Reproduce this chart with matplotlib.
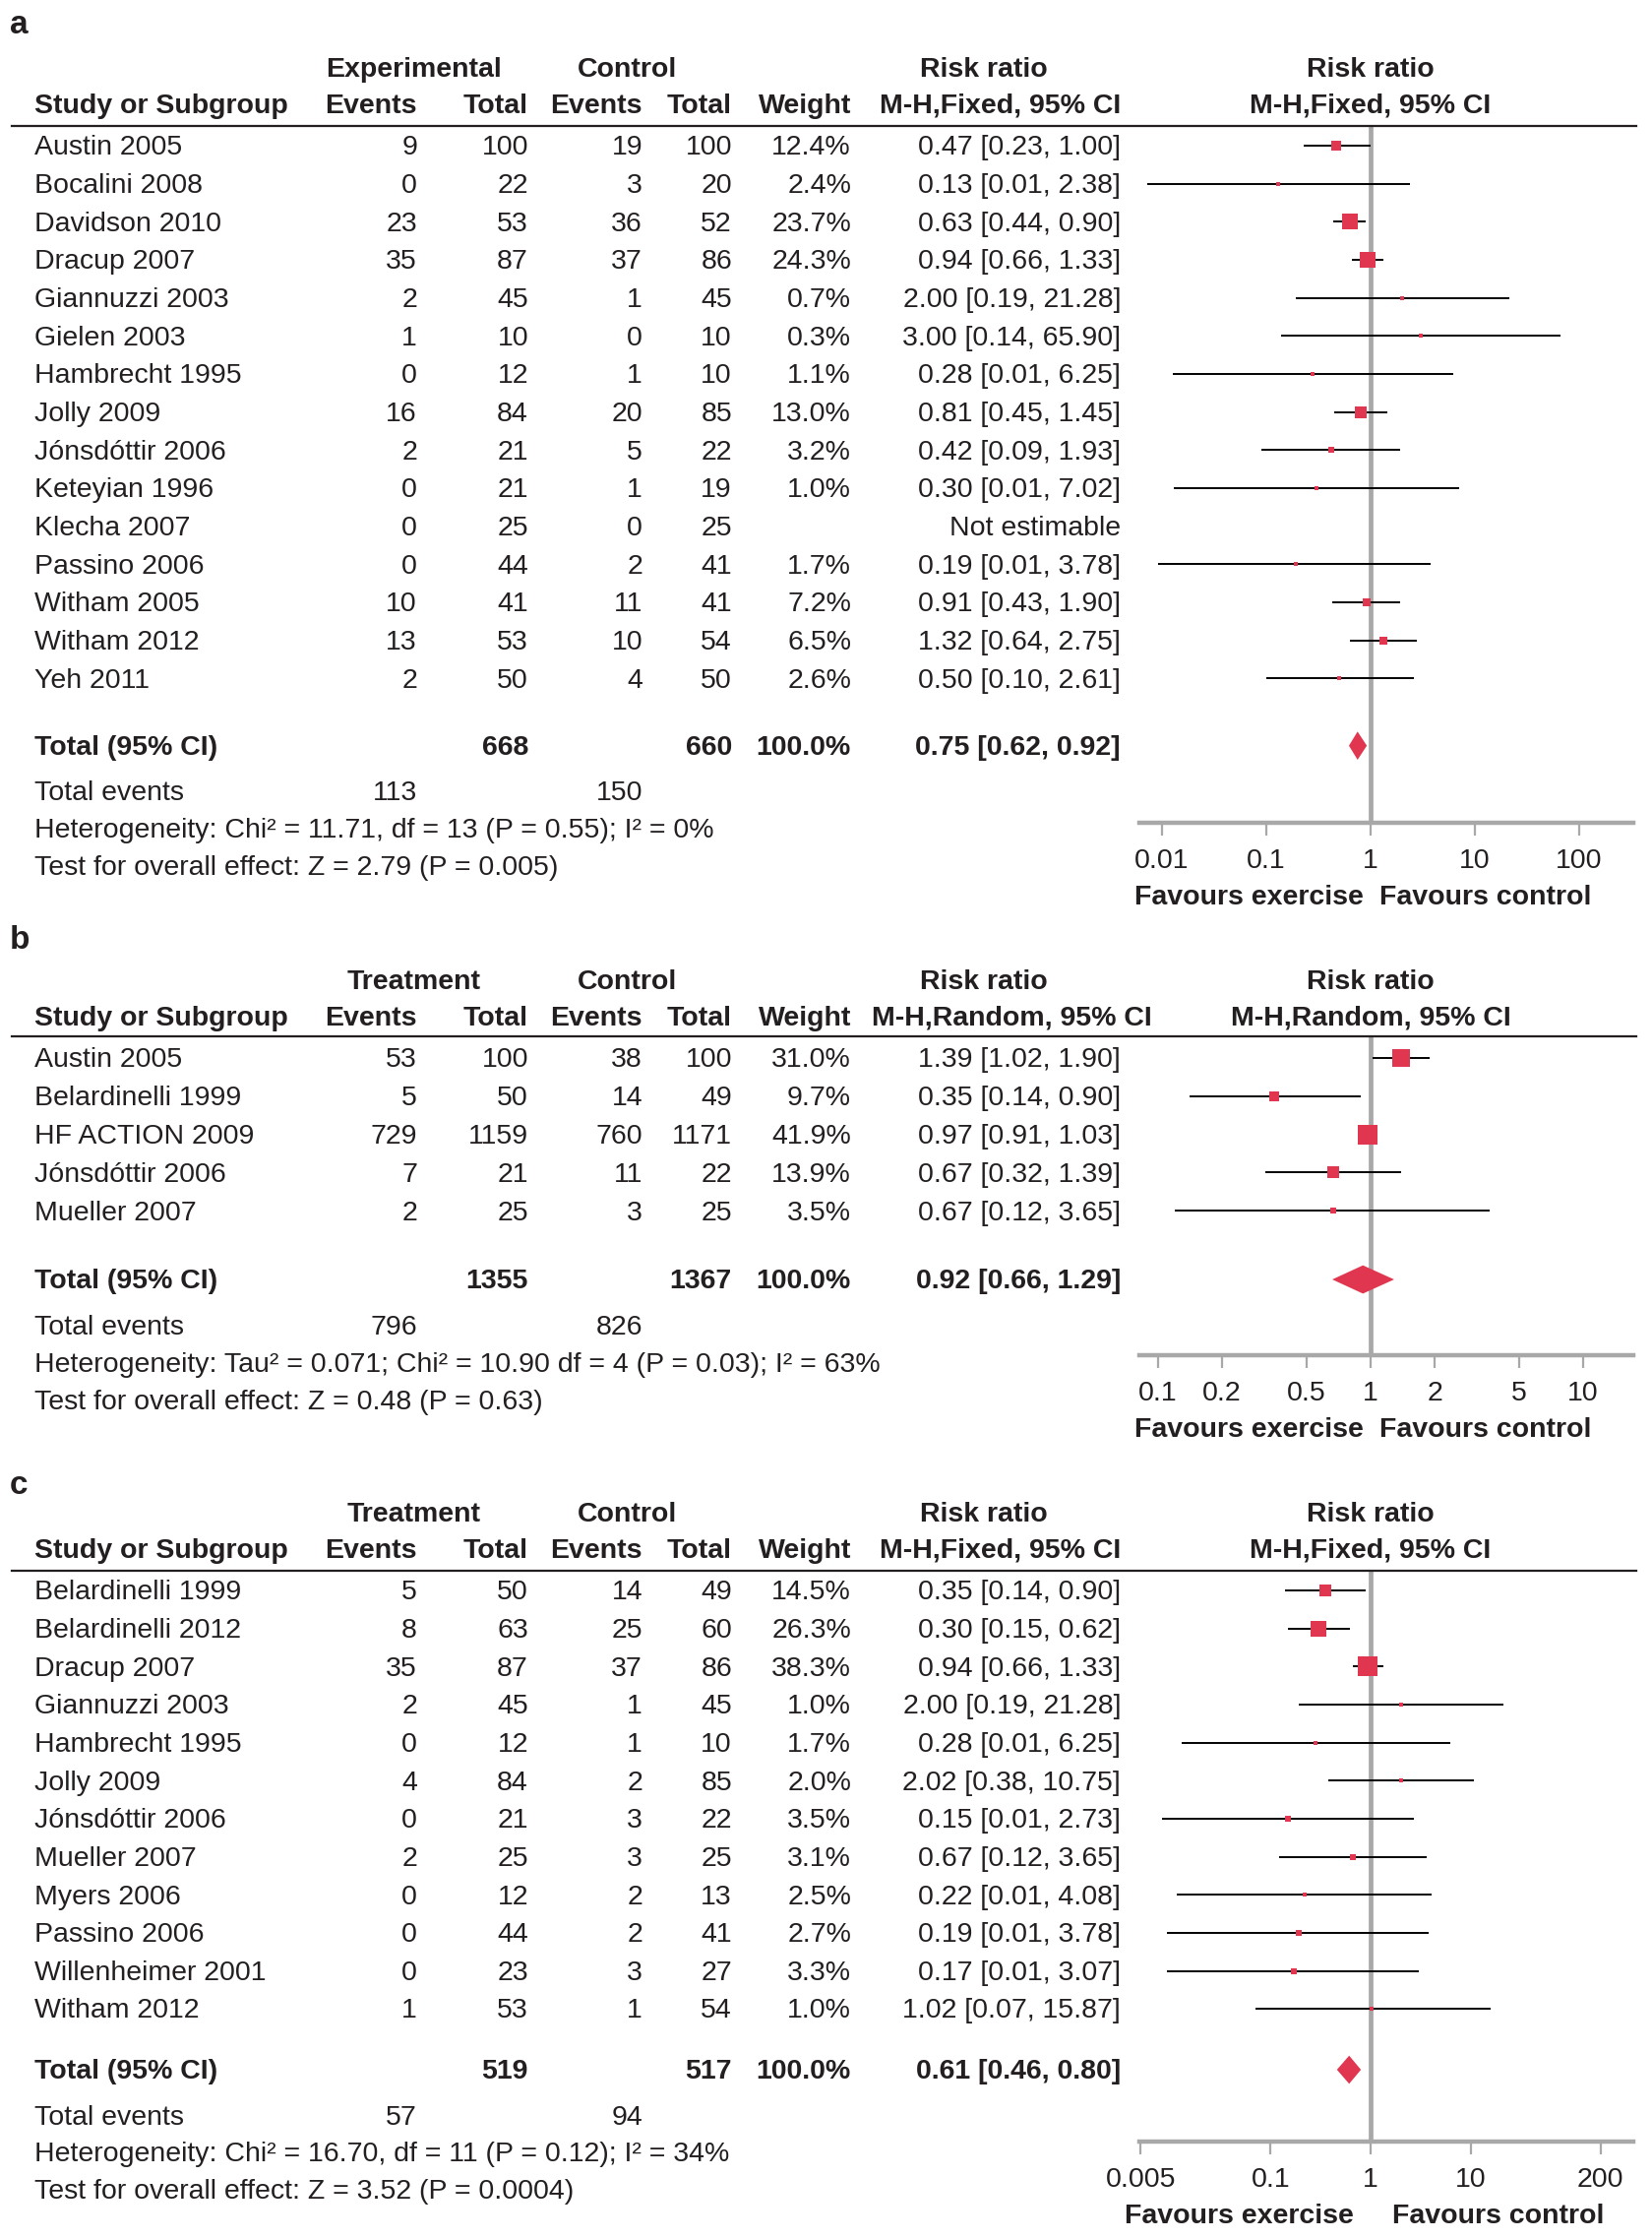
import numpy as np
import matplotlib.pyplot as plt
import matplotlib.transforms as mtransforms
from matplotlib.lines import Line2D
from matplotlib.patches import Polygon
from matplotlib.ticker import NullLocator

plt.rcParams['font.family'] = ['Liberation Sans', 'DejaVu Sans']

# ---- panel a: all-cause mortality, fixed effect
studies_a = ["Austin 2005", "Bocalini 2008", "Davidson 2010", "Dracup 2007", "Giannuzzi 2003",
             "Gielen 2003", "Hambrecht 1995", "Jolly 2009", "Jónsdóttir 2006", "Keteyian 1996",
             "Klecha 2007", "Passino 2006", "Witham 2005", "Witham 2012", "Yeh 2011"]
exp_ev_a = [9, 0, 23, 35, 2, 1, 0, 16, 2, 0, 0, 0, 10, 13, 2]
exp_n_a = [100, 22, 53, 87, 45, 10, 12, 84, 21, 21, 25, 44, 41, 53, 50]
ctl_ev_a = [19, 3, 36, 37, 1, 0, 1, 20, 5, 1, 0, 2, 11, 10, 4]
ctl_n_a = [100, 20, 52, 86, 45, 10, 10, 85, 22, 19, 25, 41, 41, 54, 50]
weight_a = [12.4, 2.4, 23.7, 24.3, 0.7, 0.3, 1.1, 13.0, 3.2, 1.0, np.nan, 1.7, 7.2, 6.5, 2.6]
rr_a = [0.47, 0.13, 0.63, 0.94, 2.00, 3.00, 0.28, 0.81, 0.42, 0.30, np.nan, 0.19, 0.91, 1.32, 0.50]
lo_a = [0.23, 0.0072, 0.44, 0.66, 0.19, 0.14, 0.0127, 0.45, 0.09, 0.0131, np.nan, 0.0092, 0.43, 0.64, 0.10]
hi_a = [1.00, 2.38, 0.90, 1.33, 21.28, 65.90, 6.25, 1.45, 1.93, 7.02, np.nan, 3.78, 1.90, 2.75, 2.61]
tot_a = dict(exp_n=668, ctl_n=660, rr=0.75, lo=0.62, hi=0.92, exp_ev=113, ctl_ev=150)
het_a = "Heterogeneity: Chi² = 11.71, df = 13 (P = 0.55); I² = 0%"
test_a = "Test for overall effect: Z = 2.79 (P = 0.005)"
ticks_a = [0.01, 0.1, 1, 10, 100]
ticklab_a = ["0.01", "0.1", "1", "10", "100"]

# ---- panel b: random effects
studies_b = ["Austin 2005", "Belardinelli 1999", "HF ACTION 2009", "Jónsdóttir 2006", "Mueller 2007"]
exp_ev_b = [53, 5, 729, 7, 2]
exp_n_b = [100, 50, 1159, 21, 25]
ctl_ev_b = [38, 14, 760, 11, 3]
ctl_n_b = [100, 49, 1171, 22, 25]
weight_b = [31.0, 9.7, 41.9, 13.9, 3.5]
rr_b = [1.39, 0.35, 0.97, 0.67, 0.67]
lo_b = [1.02, 0.14, 0.91, 0.32, 0.12]
hi_b = [1.90, 0.90, 1.03, 1.39, 3.65]
tot_b = dict(exp_n=1355, ctl_n=1367, rr=0.92, lo=0.66, hi=1.29, exp_ev=796, ctl_ev=826)
het_b = "Heterogeneity: Tau² = 0.071; Chi² = 10.90 df = 4 (P = 0.03); I² = 63%"
test_b = "Test for overall effect: Z = 0.48 (P = 0.63)"
ticks_b = [0.1, 0.2, 0.5, 1, 2, 5, 10]
ticklab_b = ["0.1", "0.2", "0.5", "1", "2", "5", "10"]

# ---- panel c
studies_c = ["Belardinelli 1999", "Belardinelli 2012", "Dracup 2007", "Giannuzzi 2003", "Hambrecht 1995",
             "Jolly 2009", "Jónsdóttir 2006", "Mueller 2007", "Myers 2006", "Passino 2006",
             "Willenheimer 2001", "Witham 2012"]
exp_ev_c = [5, 8, 35, 2, 0, 4, 0, 2, 0, 0, 0, 1]
exp_n_c = [50, 63, 87, 45, 12, 84, 21, 25, 12, 44, 23, 53]
ctl_ev_c = [14, 25, 37, 1, 1, 2, 3, 3, 2, 2, 3, 1]
ctl_n_c = [49, 60, 86, 45, 10, 85, 22, 25, 13, 41, 27, 54]
weight_c = [14.5, 26.3, 38.3, 1.0, 1.7, 2.0, 3.5, 3.1, 2.5, 2.7, 3.3, 1.0]
rr_c = [0.35, 0.30, 0.94, 2.00, 0.28, 2.02, 0.15, 0.67, 0.22, 0.19, 0.17, 1.02]
lo_c = [0.14, 0.15, 0.66, 0.19, 0.0127, 0.38, 0.0082, 0.12, 0.0114, 0.0092, 0.0091, 0.07]
hi_c = [0.90, 0.62, 1.33, 21.28, 6.25, 10.75, 2.73, 3.65, 4.08, 3.78, 3.07, 15.87]
tot_c = dict(exp_n=519, ctl_n=517, rr=0.61, lo=0.46, hi=0.80, exp_ev=57, ctl_ev=94)
het_c = "Heterogeneity: Chi² = 16.70, df = 11 (P = 0.12); I² = 34%"
test_c = "Test for overall effect: Z = 3.52 (P = 0.0004)"
ticks_c = [0.005, 0.1, 1, 10, 200]
ticklab_c = ["0.005", "0.1", "1", "10", "200"]

W, H = 1679, 2275
INK = '#231f20'
RED = '#e0364f'
GREY = '#a8a8a8'
FS = 20.5
DY = 0.06  # text sits a touch below the marker centre

fig = plt.figure(figsize=(W / 100, H / 100), dpi=100)

# column x positions in pixels (right edges for numbers)
X_STUDY = 35
X_EEV, X_EN, X_CEV, X_CN, X_W, X_RR = 424, 537, 653, 744, 865, 1139
X_GRP, X_CTL, X_RRHEAD = 421, 637, 1000
AX_L, AX_R = 1158, 1660


def fx(px):
    return px / W


def draw_panel(letter, letter_y, sep_y, row0_y, row_h, axis_y, gap,
               studies, eev, en, cev, cn, wt, rr, lo, hi, tot, het, test,
               ticks, ticklabs, xlim, group, model, mh_x, fav_dx):
    ax = fig.add_axes([fx(AX_L), 1 - axis_y / H, fx(AX_R - AX_L), (axis_y - sep_y) / H])
    ax.set_xscale('log')
    ax.set_xlim(*xlim)
    ax.set_ylim((axis_y - row0_y) / row_h, (sep_y - row0_y) / row_h)
    for s in ['top', 'left', 'right']:
        ax.spines[s].set_visible(False)
    ax.spines['bottom'].set_color(GREY)
    ax.spines['bottom'].set_linewidth(3.2)
    ax.set_yticks([])
    ax.set_xticks(ticks)
    ax.set_xticklabels(ticklabs)
    ax.xaxis.set_minor_locator(NullLocator())
    ax.tick_params(axis='x', length=9, width=1.6, color=GREY, labelsize=FS,
                   labelcolor=INK, pad=9.5)
    ax.patch.set_alpha(0)
    ax.axvline(1, color=GREY, lw=3.4, zorder=1)

    tr = mtransforms.blended_transform_factory(fig.transFigure, ax.transData)

    def t(x, y, s, ha='right', bold=False):
        ax.text(fx(x), y + DY, s, transform=tr, ha=ha, va='center', fontsize=FS,
                color=INK, fontweight='bold' if bold else 'normal')

    fig.text(fx(10), 1 - letter_y / H, letter, fontsize=24, fontweight='bold',
             color=INK, va='center', ha='left')

    # header
    h1, h2 = -2.04, -1.1
    t(X_GRP, h1, group, ha='center', bold=True)
    t(X_CTL, h1, "Control", ha='center', bold=True)
    t(X_RRHEAD, h1, "Risk ratio", ha='center', bold=True)
    t(X_STUDY, h2, "Study or Subgroup", ha='left', bold=True)
    t(X_EEV, h2, "Events", bold=True)
    t(X_EN, h2, "Total", bold=True)
    t(X_CEV, h2, "Events", bold=True)
    t(X_CN, h2, "Total", bold=True)
    t(X_W, h2, "Weight", bold=True)
    t(mh_x, h2, "M-H," + model + ", 95% CI", ha='center', bold=True)
    ax.text(1, h1 + DY, "Risk ratio", ha='center', va='center', fontsize=FS,
            color=INK, fontweight='bold')
    ax.text(1, h2 + DY, "M-H," + model + ", 95% CI", ha='center', va='center',
            fontsize=FS, color=INK, fontweight='bold')
    fig.add_artist(Line2D([fx(12), fx(1663)], [1 - sep_y / H] * 2,
                          transform=fig.transFigure, color=INK, lw=1.6))

    # study rows
    for i, name in enumerate(studies):
        t(X_STUDY, i, name, ha='left')
        t(X_EEV, i, str(eev[i]))
        t(X_EN, i, str(en[i]))
        t(X_CEV, i, str(cev[i]))
        t(X_CN, i, str(cn[i]))
        if np.isnan(rr[i]):
            t(X_RR, i, "Not estimable")
            continue
        t(X_W, i, f"{wt[i]:.1f}%")
        t(X_RR, i, f"{rr[i]:.2f} [{lo[i]:.2f}, {hi[i]:.2f}]")
        ax.plot([lo[i], hi[i]], [i, i], color='black', lw=1.4, zorder=2,
                solid_capstyle='butt')
        side = max(3.1 * np.sqrt(wt[i]), 4.5) * 0.72
        ax.plot(rr[i], i, marker='s', ms=side, color=RED, mec=RED, mew=0, zorder=3)

    # total row
    yt = len(studies) - 1 + gap
    t(X_STUDY, yt, "Total (95% CI)", ha='left', bold=True)
    t(X_EN, yt, str(tot['exp_n']), bold=True)
    t(X_CN, yt, str(tot['ctl_n']), bold=True)
    t(X_W, yt, "100.0%", bold=True)
    t(X_RR, yt, f"{tot['rr']:.2f} [{tot['lo']:.2f}, {tot['hi']:.2f}]", bold=True)
    dh = 0.37
    ax.add_patch(Polygon([(tot['lo'], yt), (tot['rr'], yt - dh), (tot['hi'], yt),
                          (tot['rr'], yt + dh)], closed=True, color=RED, lw=0, zorder=3))

    t(X_STUDY, yt + 1.2, "Total events", ha='left')
    t(X_EEV, yt + 1.2, str(tot['exp_ev']))
    t(X_CEV, yt + 1.2, str(tot['ctl_ev']))
    t(X_STUDY, yt + 2.17, het, ha='left')
    t(X_STUDY, yt + 3.15, test, ha='left')

    # favours labels
    bt = mtransforms.blended_transform_factory(ax.transData, ax.transAxes)
    ax.annotate("Favours exercise", (1, 0), xycoords=bt, xytext=(fav_dx[0] * 0.72, -76 * 0.72),
                textcoords='offset points', ha='right', va='center', fontsize=FS,
                fontweight='bold', color=INK)
    ax.annotate("Favours control", (1, 0), xycoords=bt, xytext=(fav_dx[1] * 0.72, -76 * 0.72),
                textcoords='offset points', ha='left', va='center', fontsize=FS,
                fontweight='bold', color=INK)


draw_panel('a', 26, 127.7, 148, 38.66, 836, 1.77,
           studies_a, exp_ev_a, exp_n_a, ctl_ev_a, ctl_n_a, weight_a, rr_a, lo_a, hi_a,
           tot_a, het_a, test_a, ticks_a, ticklab_a, (10 ** -2.217, 10 ** 2.519),
           "Experimental", "Fixed", 1017, (-7, 9))
draw_panel('b', 955, 1053, 1075, 38.8, 1377, 1.8,
           studies_b, exp_ev_b, exp_n_b, ctl_ev_b, ctl_n_b, weight_b, rr_b, lo_b, hi_b,
           tot_b, het_b, test_b, ticks_b, ticklab_b, (10 ** -1.088, 10 ** 1.236),
           "Treatment", "Random", 1028, (-7, 9))
draw_panel('c', 1509, 1596, 1616, 38.65, 2176, 1.6,
           studies_c, exp_ev_c, exp_n_c, ctl_ev_c, ctl_n_c, weight_c, rr_c, lo_c, hi_c,
           tot_c, het_c, test_c, ticks_c, ticklab_c, (10 ** -2.315, 10 ** 2.63),
           "Treatment", "Fixed", 1017, (-17, 22))

fig.savefig("out.png", dpi=100)
